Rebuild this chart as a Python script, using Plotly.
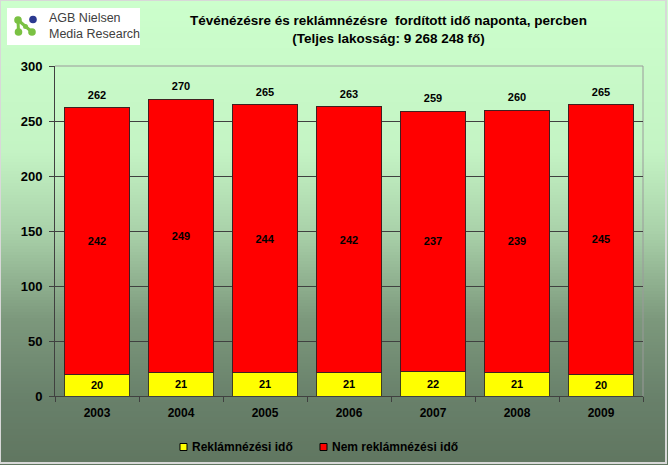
import plotly.graph_objects as go

years = ["2003", "2004", "2005", "2006", "2007", "2008", "2009"]
ad_time = [20, 21, 21, 21, 22, 21, 20]
non_ad_time = [242, 249, 244, 242, 237, 239, 245]
totals = [262, 270, 265, 263, 259, 260, 265]
y_ticks = [0, 50, 100, 150, 200, 250, 300]
series_names = ["Reklámnézési idő", "Nem reklámnézési idő"]
series_colors = ["#ffff00", "#ff0000"]

W, H = 668, 465
FONT = "Arial, Liberation Sans, sans-serif"

fig = go.Figure()
for name, vals, c, lc in [(series_names[0], ad_time, series_colors[0], "#404020"),
                          (series_names[1], non_ad_time, series_colors[1], "#402020")]:
    fig.add_trace(go.Bar(
        x=years, y=vals, name=name, showlegend=False,
        marker=dict(color=c, line=dict(color=lc, width=1)),
        text=[str(v) for v in vals], textposition="inside",
        insidetextanchor="middle", textangle=0,
        textfont=dict(size=11, color="black", family=FONT, weight="bold"),
    ))
fig.add_trace(go.Scatter(
    x=years, y=totals, mode="markers+text", text=[str(v) for v in totals],
    marker=dict(size=8, opacity=0),
    textposition="top center", showlegend=False, hoverinfo="skip",
    textfont=dict(size=11, color="black", family=FONT, weight="bold"),
))

# background gradient
stops = [(0, (204, 255, 204)), (150, (196, 244, 196)), (230, (170, 210, 170)),
         (320, (124, 152, 124)), (400, (104, 128, 106)), (465, (96, 118, 96))]
def col(y):
    for (y0, c0), (y1, c1) in zip(stops[:-1], stops[1:]):
        if y0 <= y <= y1:
            t = (y - y0) / (y1 - y0)
            return "rgb(%d,%d,%d)" % tuple(round(a + (b - a) * t) for a, b in zip(c0, c1))
    return "rgb(96,118,96)"
shapes = []
step = 3
for yy in range(0, H, step):
    shapes.append(dict(type="rect", xref="paper", yref="paper", layer="below",
                       x0=0, x1=1, y0=1 - (yy + step) / H, y1=1 - yy / H,
                       fillcolor=col(yy + step / 2), line=dict(width=0)))
# outer border
shapes.append(dict(type="rect", xref="paper", yref="paper", x0=0, x1=(W - 2) / W,
                   y0=2 / H, y1=1, line=dict(color="#d8d8d8", width=2), layer="above"))
# plot area top/right border
px0, px1, py0, py1 = 55, 643, 396, 66
shapes.append(dict(type="line", xref="paper", yref="paper", x0=px0 / W, x1=px1 / W,
                   y0=1 - py1 / H, y1=1 - py1 / H, line=dict(color="#9a9a9a", width=1), layer="below"))
shapes.append(dict(type="line", xref="paper", yref="paper", x0=px1 / W, x1=px1 / W,
                   y0=1 - py1 / H, y1=1 - py0 / H, line=dict(color="#9a9a9a", width=1), layer="below"))
# logo box
shapes.append(dict(type="rect", xref="paper", yref="paper", x0=7 / W, x1=140 / W,
                   y0=1 - 45 / H, y1=1 - 8 / H, fillcolor="white", line=dict(width=0)))
def px(x, y):
    return x / W, 1 - y / H
for (xa, ya), (xb, yb) in [((18, 20), (18.5, 32)), ((18, 20), (32, 32))]:
    a, b = px(xa, ya), px(xb, yb)
    shapes.append(dict(type="line", xref="paper", yref="paper", x0=a[0], y0=a[1],
                       x1=b[0], y1=b[1], line=dict(color="#7ac143", width=3)))
for (cx, cy, r, c) in [(18, 20, 3.8, "#7ac143"), (18.5, 32, 3.8, "#7ac143"), (32, 32, 3.8, "#7ac143"),
                       (25.5, 26.5, 2.5, "#7ac143"), (33, 19.5, 3.8, "#2b3990")]:
    shapes.append(dict(type="circle", xref="paper", yref="paper",
                       x0=(cx - r) / W, x1=(cx + r) / W,
                       y0=1 - (cy + r) / H, y1=1 - (cy - r) / H,
                       fillcolor=c, line=dict(width=0)))

annotations = [
    dict(text="AGB Nielsen<br>Media Research", x=47 / W, y=1 - 26 / H, xref="paper", yref="paper",
         xanchor="left", yanchor="middle", showarrow=False, align="left",
         font=dict(family=FONT, size=12.5, color="#404040")),
    dict(text="<b>Tévénézésre és reklámnézésre  fordított idő naponta, percben</b><br><b>(Teljes lakosság: 9 268 248 fő)</b>",
         x=388 / W, y=1 - 29 / H, xref="paper", yref="paper", xanchor="center", yanchor="middle",
         showarrow=False, align="center", font=dict(family=FONT, size=13.5, color="black")),
]

# legend (squares + labels)
leg_x = [180, 320]
leg_y = 447
for lx, name, c in zip(leg_x, series_names, series_colors):
    shapes.append(dict(type="rect", xref="paper", yref="paper",
                       x0=lx / W, x1=(lx + 7) / W, y0=1 - (leg_y + 3.5) / H, y1=1 - (leg_y - 3.5) / H,
                       fillcolor=c, line=dict(color="black", width=1)))
    annotations.append(dict(text="<b>" + name + "</b>", x=(lx + 10) / W, y=1 - leg_y / H,
                            xref="paper", yref="paper", xanchor="left", yanchor="middle",
                            showarrow=False, font=dict(family=FONT, size=12, color="black")))

fig.update_layout(
    width=W, height=H, barmode="stack", bargap=0.23,
    margin=dict(l=0, r=0, t=0, b=0),
    paper_bgcolor="rgba(0,0,0,0)", plot_bgcolor="rgba(0,0,0,0)",
    font=dict(family=FONT, color="black"),
    shapes=shapes, annotations=annotations, showlegend=False,
    xaxis=dict(domain=[px0 / W, px1 / W], tickson="boundaries", ticks="outside", ticklen=5,
               tickcolor="#404040", showline=True, linecolor="#404040", linewidth=1,
               ticklabelstandoff=6,
               showgrid=False, tickfont=dict(size=12, family=FONT, weight="bold"), automargin=False),
    yaxis=dict(domain=[1 - py0 / H, 1 - py1 / H], range=[0, 300], tickvals=y_ticks,
               ticks="outside", ticklen=5, tickcolor="#404040", showline=True,
               linecolor="#404040", linewidth=1, gridcolor="#404040", gridwidth=1,
               ticklabelstandoff=4,
               zeroline=False, tickfont=dict(size=13, family=FONT, weight="bold"),
               automargin=False),
)

fig.write_html("out.html")
